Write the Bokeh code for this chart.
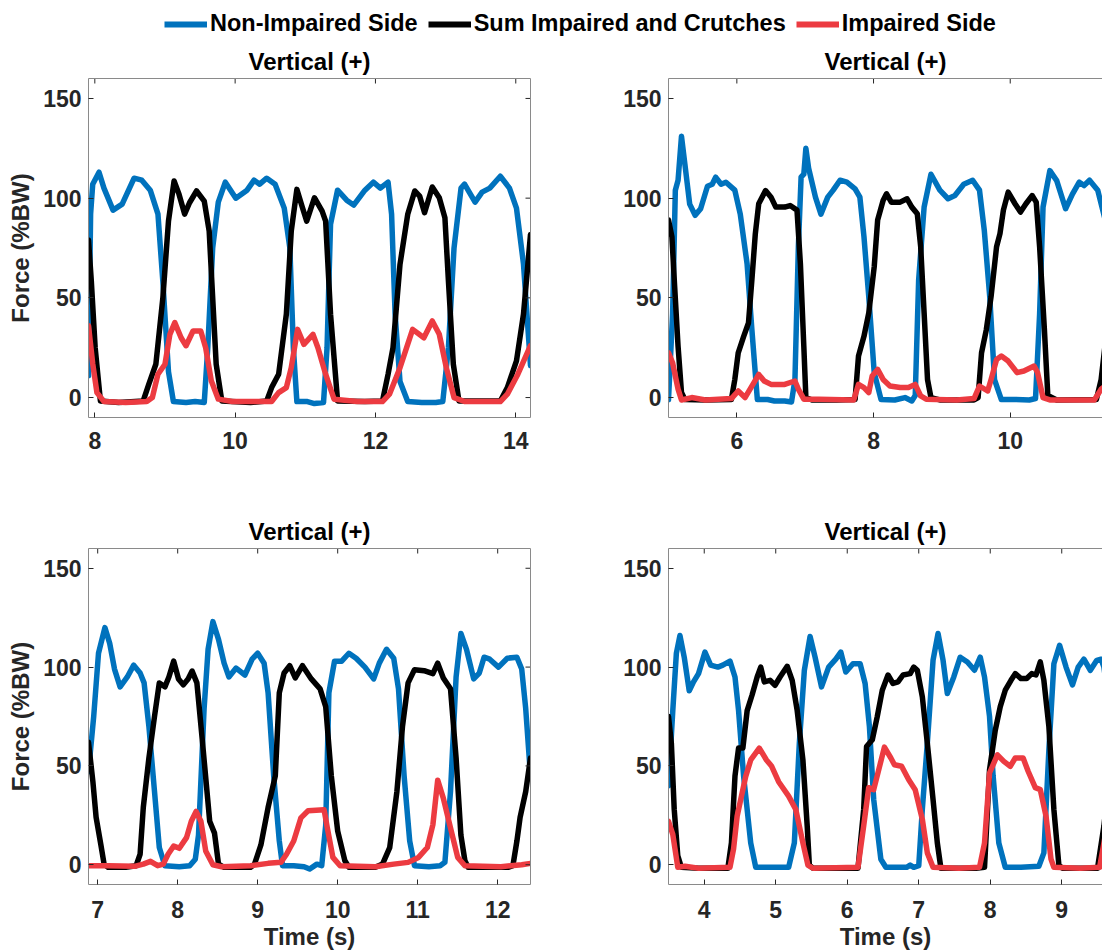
from bokeh.plotting import figure
from bokeh.layouts import column, row
from bokeh.models import LinearAxis, Range1d, FixedTicker, Legend, LegendItem
from bokeh.embed import file_html
from bokeh.resources import INLINE

FONT = "Liberation Sans"
BLUE = "#0072BD"
BLACK = "#000000"
RED = "#EC3B41"
TICK_COLOR = "#262626"
BOX_COLOR = "#8a8a8a"
TICK_LEN_PX = 5

series_names = ["Non-Impaired Side", "Sum Impaired and Crutches", "Impaired Side"]
panel_title = "Vertical (+)"
y_label = "Force (%BW)"
x_label = "Time (s)"
y_ticks = [0, 50, 100, 150]
y_limits = (-10, 160)

# ---------------- top-left ----------------
tl_xlim = (7.91, 14.21)
tl_xticks = [8, 10, 12, 14]
tl_blue = [(7.91,11),(7.94,92),(7.97,107),(8.06,113),(8.13,105),(8.26,94),(8.39,97),(8.56,110),(8.67,109),(8.79,104),(8.90,92),(8.97,58),(9.05,13),(9.12,-2),(9.30,-2.5),(9.43,-2),(9.56,-2.5),(9.61,25),(9.68,75),(9.76,98),(9.86,108),(10.01,100),(10.17,104),(10.27,109),(10.35,107),(10.45,110),(10.57,107),(10.70,95),(10.78,75),(10.83,25),(10.88,-2),(11.03,-2),(11.13,-3),(11.26,-2.5),(11.31,25),(11.36,87),(11.46,104),(11.59,99),(11.69,96.5),(11.85,104),(11.97,108),(12.07,105),(12.18,108),(12.23,92),(12.28,42),(12.35,8),(12.46,-2),(12.66,-2.5),(12.86,-2.5),(12.96,-2),(13.04,25),(13.12,75),(13.22,105),(13.27,107),(13.42,98),(13.52,103),(13.63,105),(13.78,111),(13.91,105),(14.01,95),(14.11,67),(14.21,16)]
tl_black = [(7.91,79),(7.95,58.5),(8.005,25),(8.08,-1.7),(8.34,-2.5),(8.69,-1.7),(8.77,6.7),(8.87,16.7),(8.97,50),(9.05,88.5),(9.13,108.6),(9.20,102),(9.28,92),(9.35,97.7),(9.45,103.6),(9.56,98.5),(9.63,83.5),(9.68,50),(9.73,16.7),(9.81,-1.7),(10.22,-2.5),(10.45,-1.7),(10.52,5),(10.62,11.7),(10.73,41.8),(10.80,83.5),(10.88,104.4),(10.96,95.2),(11.02,88.5),(11.13,100.2),(11.24,93.5),(11.29,88.5),(11.36,41.8),(11.46,-1.7),(11.85,-2),(12.10,-1.7),(12.18,11.7),(12.25,25),(12.35,66.8),(12.46,91.9),(12.56,103.6),(12.63,101),(12.70,92.7),(12.81,105.6),(12.91,100.2),(12.99,90.2),(13.04,58.5),(13.11,16.7),(13.19,-1.7),(13.78,-1.7),(13.88,5),(14.01,18.4),(14.11,41.8),(14.21,81.8)]
tl_red = [(7.91,36),(7.97,17),(8.03,2.5),(8.13,-2),(8.44,-2.5),(8.74,-2),(8.82,0),(8.90,11.7),(9.00,16.7),(9.07,31.7),(9.14,37.6),(9.23,30),(9.30,26),(9.40,33.4),(9.51,33.4),(9.58,25),(9.66,8.4),(9.76,-0.8),(9.96,-2),(10.52,-2),(10.62,2.5),(10.73,5),(10.80,15),(10.89,34.2),(10.98,26.7),(11.11,31.7),(11.18,25),(11.29,11.7),(11.41,-0.8),(11.74,-2),(12.10,-2),(12.20,1.7),(12.35,15),(12.53,34.2),(12.69,30),(12.81,38.4),(12.91,31.7),(13.01,15),(13.12,0),(13.27,-2),(13.78,-2),(13.88,1.7),(14.03,11.7),(14.21,26)]

# ---------------- top-right ----------------
tr_xlim = (5.0, 11.35)
tr_xticks = [6, 8, 10]
tr_blue = [(5.0,-1),(5.06,42),(5.10,104),(5.14,109),(5.19,131),(5.24,117),(5.31,97),(5.39,91.4),(5.47,94.7),(5.57,106),(5.64,107),(5.69,110.5),(5.77,107),(5.84,108),(5.97,104),(6.05,92),(6.15,67),(6.22,34),(6.30,-1),(6.45,-1),(6.55,-1.7),(6.70,-1.7),(6.80,-2.2),(6.85,9),(6.90,75.6),(6.94,110.5),(6.98,112),(7.01,125),(7.05,115),(7.15,100.5),(7.23,92),(7.33,100.5),(7.41,104),(7.51,109),(7.61,108),(7.73,104.7),(7.80,100.5),(7.86,80.6),(7.93,50.7),(8.01,12.5),(8.11,-1),(8.31,-1.2),(8.46,0),(8.56,-1.7),(8.61,1),(8.66,59),(8.74,95.5),(8.84,112),(8.97,104),(9.09,99.7),(9.19,101.3),(9.32,107),(9.45,109),(9.55,104),(9.62,84),(9.70,50.7),(9.77,9),(9.87,-1),(10.08,-1),(10.28,-1.2),(10.37,-0.5),(10.43,42),(10.48,95.5),(10.58,113.8),(10.68,108.8),(10.81,94.7),(10.91,102),(11.01,108),(11.08,106.3),(11.16,109),(11.28,104),(11.39,89),(11.47,70)]
tr_black = [(5.0,89),(5.05,80.6),(5.09,55.6),(5.14,25.7),(5.19,2.5),(5.24,-1),(5.54,-1.2),(5.92,-1),(5.97,9),(6.02,22.4),(6.10,30.7),(6.17,37.4),(6.22,59),(6.27,82),(6.32,97.2),(6.42,103.8),(6.50,100.5),(6.57,95.5),(6.70,95.5),(6.78,96.3),(6.88,94),(6.93,67),(6.98,25.7),(7.01,0),(7.10,-1.2),(7.46,-1.2),(7.73,-1),(7.78,20.8),(7.86,30.7),(7.93,42.4),(8.01,65.6),(8.06,89),(8.14,98.8),(8.19,102.2),(8.26,98),(8.39,98),(8.49,99.7),(8.56,95.5),(8.64,92.2),(8.69,75.6),(8.74,42.4),(8.79,9),(8.84,0),(8.97,-1.2),(9.47,-1.2),(9.53,0),(9.58,22.4),(9.65,34),(9.72,50.7),(9.80,75.6),(9.85,82.2),(9.90,94),(9.97,103),(10.07,97.2),(10.15,93),(10.23,97.2),(10.32,101.3),(10.38,98),(10.43,75.6),(10.50,34),(10.55,1),(10.68,-1.2),(11.26,-1),(11.33,9),(11.40,30),(11.47,55)]
tr_red = [(5.0,22.4),(5.06,17.4),(5.14,4.2),(5.19,-1.2),(5.34,0),(5.54,-1.2),(5.92,-0.5),(6.02,3.3),(6.12,0),(6.25,7.5),(6.32,11.6),(6.40,8.3),(6.50,6.6),(6.70,6.6),(6.85,8.3),(6.90,4.2),(6.98,-0.8),(7.20,-0.8),(7.71,-1.2),(7.78,6.6),(7.86,5),(7.93,2.5),(7.98,10.8),(8.06,14.1),(8.14,9.1),(8.24,5.8),(8.39,5),(8.51,5),(8.61,6.6),(8.69,0.8),(8.77,-0.8),(9.22,-1.2),(9.47,-0.5),(9.55,5.8),(9.67,3.3),(9.72,9.1),(9.80,19.1),(9.87,20.8),(9.97,18.3),(10.10,12.5),(10.20,13.3),(10.35,15.8),(10.40,12.5),(10.48,0),(10.58,-1.2),(11.23,-1.2),(11.33,4.2),(11.47,8)]

# ---------------- bottom-left ----------------
bl_xlim = (6.885, 12.41)
bl_xticks = [7, 8, 9, 10, 11, 12]
bl_blue = [(6.885,47),(6.95,75),(7.01,107),(7.09,120),(7.15,112),(7.21,99),(7.28,90),(7.37,95),(7.45,101),(7.53,97),(7.58,92),(7.64,70),(7.71,37),(7.77,8.7),(7.84,-0.5),(8.02,-1),(8.15,-0.5),(8.22,2.8),(8.26,15),(8.33,79),(8.38,109),(8.44,123),(8.51,114),(8.58,102),(8.64,95),(8.73,99.5),(8.84,96),(8.93,104),(9.00,107),(9.08,102),(9.13,87),(9.20,45),(9.27,12),(9.31,-0.5),(9.45,-0.5),(9.58,-1),(9.65,-2.2),(9.74,0.3),(9.80,-0.5),(9.85,20),(9.89,87),(9.96,103),(10.05,103),(10.14,107),(10.23,104.5),(10.34,100),(10.45,94),(10.52,102),(10.61,109),(10.70,104.5),(10.76,89),(10.83,45),(10.90,12),(10.96,-0.5),(11.14,-1),(11.28,-0.5),(11.34,1.2),(11.41,37),(11.48,95),(11.54,117),(11.61,109),(11.70,94),(11.77,97),(11.83,105),(11.90,104),(12.01,100),(12.12,104.5),(12.24,105),(12.30,99),(12.35,79),(12.41,45)]
bl_black = [(6.885,62),(6.94,42),(6.98,24),(7.04,10),(7.08,0.3),(7.13,-1.3),(7.35,-1.3),(7.48,-0.5),(7.53,5.3),(7.57,29),(7.64,54),(7.71,75),(7.77,92),(7.84,90),(7.89,95),(7.95,103),(8.01,94),(8.07,91),(8.13,94),(8.18,98),(8.24,92),(8.31,62),(8.40,22),(8.46,16),(8.51,0.3),(8.58,-1.3),(8.91,-1.3),(8.96,0.3),(9.04,10),(9.13,29),(9.22,45),(9.27,87),(9.33,97),(9.40,100.7),(9.47,94.5),(9.56,100.7),(9.67,94),(9.78,89),(9.85,80),(9.92,45),(10.00,17),(10.09,2),(10.14,-1.3),(10.47,-1.3),(10.56,0.3),(10.65,8.7),(10.74,37),(10.81,70),(10.88,92),(10.96,98.7),(11.08,98.2),(11.19,96.7),(11.25,102),(11.32,94.5),(11.41,89),(11.48,54),(11.54,15),(11.59,2),(11.63,-1.3),(12.13,-1.3),(12.19,-0.5),(12.24,12),(12.28,24),(12.35,37),(12.41,54)]
bl_red = [(6.885,-0.5),(7.13,-0.5),(7.46,-0.8),(7.57,0.3),(7.66,1.7),(7.75,-0.5),(7.82,0.3),(7.88,5.3),(7.95,9.5),(8.02,8.3),(8.11,13.7),(8.17,22),(8.23,27),(8.29,22),(8.35,7),(8.44,0),(8.55,-1),(8.91,-0.5),(9.13,0.7),(9.29,1.2),(9.36,5.3),(9.45,12),(9.54,23.7),(9.63,27.3),(9.83,27.8),(9.87,18.7),(9.94,3.7),(10.03,-0.5),(10.47,-1),(10.70,0.3),(10.88,1.2),(11.01,3.7),(11.12,8.7),(11.19,20.3),(11.25,42.8),(11.32,33.7),(11.41,18.7),(11.50,3.7),(11.59,-0.5),(12.04,-1),(12.30,0),(12.41,0.7)]

# ---------------- bottom-right ----------------
br_xlim = (3.5, 9.57)
br_xticks = [4, 5, 6, 7, 8, 9]
br_blue = [(3.50,40),(3.56,78),(3.61,107),(3.66,116),(3.72,105),(3.79,88),(3.85,92.5),(3.92,96.7),(4.01,107.6),(4.09,101),(4.19,100),(4.26,101),(4.36,103),(4.43,95),(4.48,78),(4.55,45),(4.65,11),(4.72,-1.3),(4.89,-1.3),(5.04,-1.3),(5.18,-1.3),(5.26,11),(5.33,61.5),(5.40,98.4),(5.48,115.5),(5.55,105),(5.64,90),(5.74,100),(5.84,104),(5.91,107.6),(5.98,97.5),(6.08,101.7),(6.18,101.7),(6.25,91.7),(6.31,70),(6.37,33),(6.47,2.8),(6.54,-1.3),(6.83,-1.3),(6.88,-0.2),(6.93,-1.3),(7.00,-0.5),(7.05,28),(7.12,61.5),(7.20,103.4),(7.27,117),(7.34,103.4),(7.40,86.6),(7.49,95),(7.58,105),(7.68,102.6),(7.78,98.4),(7.86,105),(7.92,95),(7.99,75),(8.04,45),(8.12,11),(8.21,-1.3),(8.43,-1.3),(8.68,-0.8),(8.75,6),(8.82,58),(8.89,101.7),(8.97,111),(9.06,100),(9.15,91),(9.23,100),(9.31,104),(9.40,98.4),(9.49,103.4),(9.55,104),(9.59,100),(9.68,75)]
br_black = [(3.50,75),(3.54,61.5),(3.58,28),(3.63,4.5),(3.68,-1.3),(3.92,-1.8),(4.33,-1.8),(4.38,11),(4.43,45),(4.48,59),(4.54,59),(4.60,78),(4.67,86),(4.74,95),(4.79,100),(4.84,92.5),(4.92,93.3),(4.99,90.8),(5.06,95),(5.16,100.4),(5.23,93.3),(5.30,78),(5.38,53),(5.44,19.6),(5.47,-0.2),(5.52,-1.8),(6.15,-1.8),(6.23,28),(6.27,59.8),(6.35,63.2),(6.42,75),(6.49,88.3),(6.57,96),(6.64,91.7),(6.71,92.5),(6.78,96),(6.88,96.7),(6.93,100),(6.98,98.4),(7.05,85),(7.12,61.5),(7.20,33),(7.26,11),(7.31,-1.8),(7.80,-1.8),(7.92,-1.3),(7.99,48),(8.07,68),(8.14,80),(8.21,88.3),(8.29,93.3),(8.35,96.7),(8.43,94.2),(8.51,94.2),(8.58,96.7),(8.64,96),(8.70,102.6),(8.75,93.3),(8.82,70),(8.89,28),(8.96,-0.2),(9.01,-1.8),(9.50,-1.8),(9.59,19.6),(9.68,50)]
br_red = [(3.50,22),(3.56,15.4),(3.63,-1.3),(3.73,-0.8),(3.92,-1.8),(4.36,-1.3),(4.41,8),(4.46,24.6),(4.50,31.3),(4.58,44.7),(4.65,53),(4.77,59),(4.87,53),(4.94,50),(5.04,42),(5.18,34.7),(5.28,28),(5.38,11),(5.45,-0.2),(5.52,-1.8),(6.15,-1.3),(6.23,19.6),(6.30,39),(6.37,38),(6.44,48),(6.52,59.5),(6.61,54),(6.66,50.6),(6.76,49.8),(6.86,43),(6.95,38),(7.05,23),(7.12,6),(7.20,-1.3),(7.56,-1.8),(7.85,-1.3),(7.92,11),(7.99,46.4),(8.10,55.6),(8.19,52.3),(8.28,49.8),(8.35,54),(8.46,54),(8.53,47.3),(8.63,39),(8.70,38),(8.78,24.6),(8.85,2.8),(8.89,-1.3),(9.26,-1.8),(9.53,-1.3),(9.59,11),(9.68,30)]


def style_axis(ax, ticks):
    ax.ticker = FixedTicker(ticks=ticks)
    ax.major_tick_in = TICK_LEN_PX
    ax.major_tick_out = 0
    ax.major_tick_line_color = TICK_COLOR
    ax.major_tick_line_width = 1
    ax.minor_tick_line_color = None
    ax.axis_line_color = BOX_COLOR
    ax.axis_line_width = 1
    ax.major_label_text_font = FONT
    ax.major_label_text_font_style = "bold"
    ax.major_label_text_font_size = "23px"
    ax.major_label_text_color = TICK_COLOR


def box_axis():
    # plain box edge: a rule with no ticks and no labels
    ax = LinearAxis(ticker=FixedTicker(ticks=[]))
    ax.major_tick_line_color = None
    ax.minor_tick_line_color = None
    ax.axis_line_color = BOX_COLOR
    ax.axis_line_width = 1
    return ax


def make_panel(xlim, xticks, data, width, height, b_left, b_right, b_top, b_bottom,
               ylab, xlab, right_box, title_offset, xlabel_standoff, title_standoff):
    p = figure(width=width, height=height, x_range=Range1d(*xlim), y_range=Range1d(*y_limits),
               output_backend="svg", toolbar_location=None,
               min_border_left=b_left, min_border_right=b_right,
               min_border_top=b_top, min_border_bottom=b_bottom, title=panel_title)
    p.outline_line_color = None
    p.grid.visible = False
    p.title.align = "center"
    p.title.offset = title_offset
    p.title.text_font = FONT
    p.title.text_font_style = "bold"
    p.title.text_font_size = "24px"
    p.title.text_color = "#000000"
    p.title.standoff = title_standoff
    for pts, color in zip(data, [BLUE, BLACK, RED]):
        xs = [a for a, b in pts]
        ys = [b for a, b in pts]
        p.line(xs, ys, line_color=color, line_width=5.5, line_join="round", line_cap="round")
    xa = p.xaxis[0]
    style_axis(xa, xticks)
    xa.major_label_standoff = xlabel_standoff
    ya = p.yaxis[0]
    style_axis(ya, y_ticks)
    ya.major_label_standoff = 7
    if ylab:
        ya.axis_label = ylab
        ya.axis_label_text_font = FONT
        ya.axis_label_text_font_style = "bold"
        ya.axis_label_text_font_size = "24px"
        ya.axis_label_text_color = TICK_COLOR
        ya.axis_label_standoff = 6
    if xlab:
        xa.axis_label = xlab
        xa.axis_label_text_font = FONT
        xa.axis_label_text_font_style = "bold"
        xa.axis_label_text_font_size = "24px"
        xa.axis_label_text_color = TICK_COLOR
        xa.axis_label_standoff = 2
        xa.axis_label_text_line_height = 1.0
    # box: top edge (+ right edge for the uncut panels), with inward tick marks
    p.add_layout(box_axis(), "above")
    frame_w = width - b_left - b_right
    frame_h = height - b_top - b_bottom
    y_per_px = (y_limits[1] - y_limits[0]) / frame_h
    x_per_px = (xlim[1] - xlim[0]) / frame_w
    top_ticks = [t for t in xticks if xlim[0] <= t <= xlim[1]]
    p.segment(x0=top_ticks, y0=[y_limits[1]] * len(top_ticks),
              x1=top_ticks, y1=[y_limits[1] - TICK_LEN_PX * y_per_px] * len(top_ticks),
              line_color=TICK_COLOR, line_width=1)
    if right_box:
        p.add_layout(box_axis(), "right")
        p.segment(x0=[xlim[1]] * len(y_ticks), y0=y_ticks,
                  x1=[xlim[1] - TICK_LEN_PX * x_per_px] * len(y_ticks), y1=y_ticks,
                  line_color=TICK_COLOR, line_width=1)
    return p


p_tl = make_panel(tl_xlim, tl_xticks, [tl_blue, tl_black, tl_red], 560, 460, 88, 30, 38, 83,
                  y_label, None, True, 0, 14, 7)
p_tr = make_panel(tr_xlim, tr_xticks, [tr_blue, tr_black, tr_red], 542, 460, 108, 0, 38, 83,
                  None, None, False, 3, 14, 7)
p_bl = make_panel(bl_xlim, bl_xticks, [bl_blue, bl_black, bl_red], 560, 452, 88, 30, 48, 68,
                  y_label, x_label, True, 0, 16, 8)
p_br = make_panel(br_xlim, br_xticks, [br_blue, br_black, br_red], 542, 452, 108, 0, 48, 68,
                  None, x_label, False, 3, 16, 8)

# legend strip (proxy lines sit outside the visible range; only their legend samples show)
lf = figure(width=1102, height=40, x_range=Range1d(0, 1), y_range=Range1d(0, 1),
            output_backend="svg", toolbar_location=None, min_border=0,
            x_axis_type=None, y_axis_type=None)
lf.outline_line_color = None
lf.grid.visible = False
items = []
for name, color in zip(series_names, [BLUE, BLACK, RED]):
    r = lf.line(x=[-3, -2], y=[-3, -2], line_color=color, line_width=6)
    items.append(LegendItem(label=name, renderers=[r]))
leg = Legend(items=items, orientation="horizontal", location=(164, 3),
             border_line_color=None, background_fill_alpha=0, padding=0, margin=0,
             spacing=10, label_standoff=3, glyph_width=43, glyph_height=20,
             label_text_font=FONT, label_text_font_style="bold",
             label_text_font_size="23.5px", label_text_color="#000000")
lf.add_layout(leg, "center")

layout = column(lf, row(p_tl, p_tr), row(p_bl, p_br))
open("out.html", "w").write(file_html(layout, INLINE))
